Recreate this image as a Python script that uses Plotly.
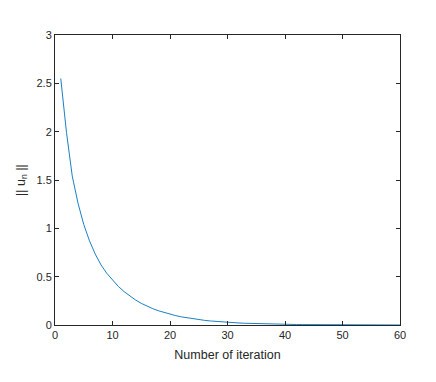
#importing libraries
import plotly.graph_objects as go

#iteration numbers and norm values
iteration = list(range(1, 61))
norm_u = [2.55, 1.99, 1.54, 1.26, 1.04, 0.87, 0.733, 0.622, 0.535, 0.463,
          0.400, 0.346, 0.300, 0.259, 0.224, 0.195, 0.169, 0.147, 0.128, 0.111,
          0.0968, 0.0842, 0.0732, 0.0636, 0.0553, 0.0481, 0.0418, 0.0363, 0.0316, 0.0275,
          0.0239, 0.0208, 0.0180, 0.0157, 0.0136, 0.0119, 0.0103, 0.0090, 0.0078, 0.0068,
          0.0059, 0.0051, 0.0045, 0.0039, 0.0034, 0.0029, 0.0026, 0.0022, 0.0019, 0.0017,
          0.0015, 0.0013, 0.0011, 0.0010, 0.0008, 0.0007, 0.0006, 0.0005, 0.0005, 0.0004]

#axis ticks
x_ticks = [0, 10, 20, 30, 40, 50, 60]
y_ticks = [0, 0.5, 1, 1.5, 2, 2.5, 3]

fig = go.Figure()

fig.add_trace(go.Scatter(
    x=iteration,
    y=norm_u,
    mode='lines',
    line=dict(color='#0072BD', width=0.9),
    showlegend=False))

#matlab style box axes
axis_style = dict(
    showline=True,
    linecolor='#262626',
    linewidth=1,
    mirror='ticks',
    ticks='inside',
    ticklen=4,
    tickcolor='#262626',
    showgrid=False,
    zeroline=False,
    tickfont=dict(size=11, color='#262626'))

fig.update_xaxes(
    range=[0, 60],
    tickvals=x_ticks,
    title=dict(text='Number of iteration', font=dict(size=12.5, color='#262626'), standoff=10),
    **axis_style)

fig.update_yaxes(
    range=[0, 3],
    tickvals=y_ticks,
    title=dict(text='|| u<sub>n</sub> ||', font=dict(size=12.5, color='#262626'), standoff=8),
    **axis_style)

#layout stuff, page body adds 8px so the figure is a bit smaller
fig.update_layout(
    width=428,
    height=374,
    margin=dict(l=45, r=36, t=27, b=57),
    plot_bgcolor='white',
    paper_bgcolor='white',
    font=dict(family='Liberation Sans, Arial, sans-serif'))

fig.write_html("out.html")
